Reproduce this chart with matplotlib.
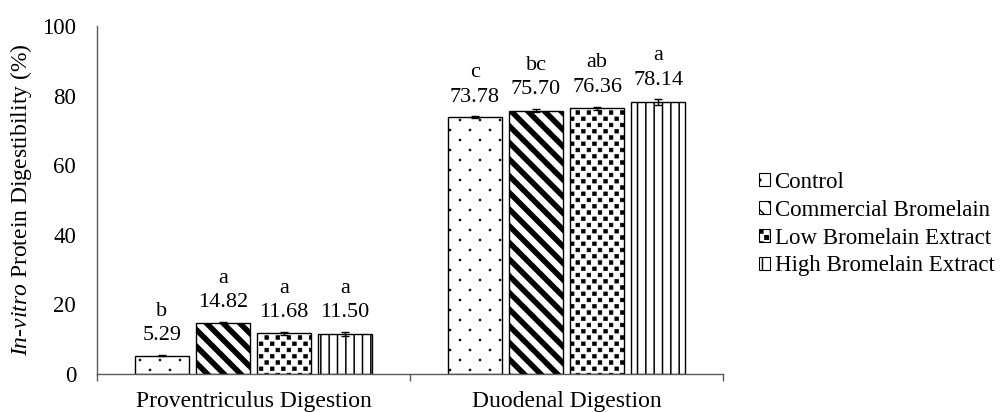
import numpy as np
import matplotlib
matplotlib.use("Agg")
import matplotlib.pyplot as plt
import matplotlib.hatch as mhatch
from matplotlib.path import Path
from matplotlib.patches import Patch

groups = ["Proventriculus Digestion", "Duodenal Digestion"]
treatments = ["Control", "Commercial Bromelain", "Low Bromelain Extract", "High Bromelain Extract"]
means = {
    "Control": [5.29, 73.78],
    "Commercial Bromelain": [14.82, 75.70],
    "Low Bromelain Extract": [11.68, 76.36],
    "High Bromelain Extract": [11.50, 78.14],
}
errors = {
    "Control": [0.2, 0.25],
    "Commercial Bromelain": [0.15, 0.4],
    "Low Bromelain Extract": [0.35, 0.5],
    "High Bromelain Extract": [0.6, 0.8],
}
letters = {
    "Control": ["b", "c"],
    "Commercial Bromelain": ["a", "bc"],
    "Low Bromelain Extract": ["a", "ab"],
    "High Bromelain Extract": ["a", "a"],
}
yticks = [0, 20, 40, 60, 80, 100]


# staggered grid of small filled shapes, used for the dot and square fills
class StaggeredShapes(mhatch.HatchPatternBase):
    char = "*"
    ncols = 9
    nrows = 16
    shape_vertices = np.array([[-1, -1], [1, -1], [1, 1], [-1, 1], [-1, -1]], float) * 0.018
    shape_codes = np.array([Path.MOVETO, Path.LINETO, Path.LINETO, Path.LINETO, Path.CLOSEPOLY],
                           dtype=Path.code_type)

    def __init__(self, hatch, density):
        if hatch.count(self.char) == 0:
            self.num_shapes = 0
            self.num_vertices = 0
            return
        self.num_shapes = (self.nrows // 2 + 1) * (self.ncols + 1) + (self.nrows // 2) * self.ncols
        self.num_vertices = self.num_shapes * len(self.shape_vertices)

    def set_vertices_and_codes(self, vertices, codes):
        verts, cds = [], []
        for r in range(self.nrows + 1):
            if r % 2 == 0:
                cols = np.arange(self.ncols + 1) / self.ncols
            else:
                cols = (np.arange(self.ncols) + 0.5) / self.ncols
            for c in cols:
                verts.append(self.shape_vertices + [c, r / self.nrows])
                cds.append(self.shape_codes)
        np.concatenate(verts, out=vertices)
        np.concatenate(cds, out=codes)


class SquareDots(StaggeredShapes):
    pass


class SparseDots(StaggeredShapes):
    char = "."
    ncols = 5
    nrows = 10
    shape_vertices = Path.unit_circle().vertices * 0.009
    shape_codes = Path.unit_circle().codes


swap = {mhatch.Stars: SquareDots, mhatch.SmallFilledCircles: SparseDots}
mhatch._hatch_types = [swap.get(h, h) for h in mhatch._hatch_types]

HATCH = {"Control": ".", "Commercial Bromelain": "\\\\", "Low Bromelain Extract": "*", "High Bromelain Extract": "||"}
HATCH_LW = {"Control": 0.6, "Commercial Bromelain": 4.0, "Low Bromelain Extract": 0.5, "High Bromelain Extract": 1.1}

plt.rcParams["font.family"] = ["Liberation Serif", "DejaVu Serif"]
plt.rcParams["mathtext.fontset"] = "custom"
plt.rcParams["mathtext.rm"] = "Liberation Serif"
plt.rcParams["mathtext.it"] = "Liberation Serif:italic"

fig = plt.figure(figsize=(10.02, 4.12), dpi=100)
ax = fig.add_axes([0.0968, 0.092, 0.6248, 0.845])

x = np.arange(len(groups))
width = 0.17
step = 0.195
for i, t in enumerate(treatments):
    pos = x + (i - 1.5) * step
    bars = ax.bar(pos, means[t], width, color="white", edgecolor="black", linewidth=1.0,
                  hatch=HATCH[t], zorder=2)
    for b in bars:
        if hasattr(b, "set_hatch_linewidth"):
            b.set_hatch_linewidth(HATCH_LW[t])
    ax.errorbar(pos, means[t], yerr=errors[t], fmt="none", ecolor="black", elinewidth=1.0,
                capsize=3, capthick=1.0, zorder=3)
    for p, m, e, l in zip(pos, means[t], errors[t], letters[t]):
        ax.annotate(f"{l}\n{m:.2f}", (p, m + e), xytext=(0, 7), textcoords="offset points",
                    ha="center", va="bottom", fontsize=16, linespacing=1.4)

ax.set_xlim(-0.5, 1.5)
ax.set_ylim(0, 100)
ax.set_yticks(yticks)
ax.tick_params(axis="y", length=0, pad=15, labelsize=16.5)
ax.set_xticks(x)
ax.set_xticklabels(groups)
ax.set_xticks([-0.5, 0.5, 1.5], minor=True)
ax.tick_params(axis="x", which="major", length=0, pad=12, labelsize=17)
ax.tick_params(axis="x", which="minor", length=5, width=1.0, color="#595959", direction="out")
ax.set_ylabel(r"$\mathit{In}$-$\mathit{vitro}$ Protein Digestibility (%)", fontsize=17, labelpad=6)
for s in ["top", "right"]:
    ax.spines[s].set_visible(False)
for s in ["left", "bottom"]:
    ax.spines[s].set_color("#595959")
    ax.spines[s].set_linewidth(1.0)

handles = []
for t in treatments:
    h = Patch(facecolor="white", edgecolor="black", linewidth=0.8, hatch=HATCH[t])
    if hasattr(h, "set_hatch_linewidth"):
        h.set_hatch_linewidth(min(HATCH_LW[t], 1.5))
    handles.append(h)
fig.legend(handles, treatments, loc="center left", bbox_to_anchor=(0.757, 0.456), frameon=False,
           borderaxespad=0, borderpad=0, fontsize=16.5, handlelength=0.5, handleheight=0.5,
           handletextpad=0.2, labelspacing=0.3)

fig.savefig("out.png", dpi=100)
